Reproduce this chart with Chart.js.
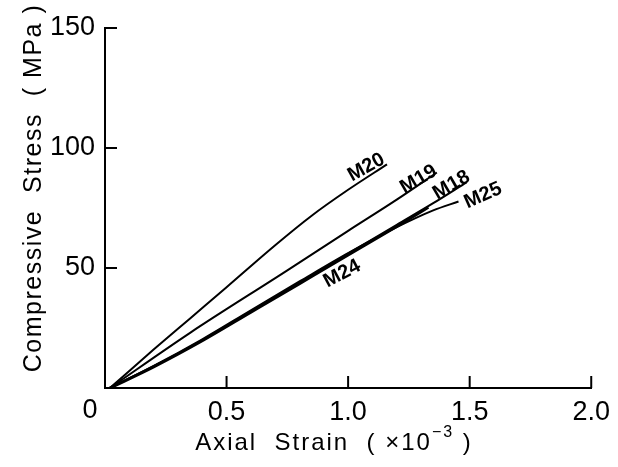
<!DOCTYPE html>
<html>
<head>
<meta charset="utf-8">
<style>
  html, body { margin: 0; padding: 0; background: #fff; }
  canvas { display: block; }
</style>
</head>
<body>
<canvas id="chart" width="618" height="467"></canvas>
<script src="https://cdn.jsdelivr.net/npm/chart.js@4"></script>
<script>
// axial strain in units of 1e-3, compressive stress in MPa
const strainM20 = [0.02, 0.2, 0.35, 0.5, 0.7, 0.85, 1.0, 1.16];
const stressM20 = [0, 16, 29, 42, 59.5, 71.8, 82.6, 93.2];

const strainM19 = [0.02, 0.35, 0.75, 1.0, 1.2, 1.365];
const stressM19 = [0, 23, 49, 65.5, 78.5, 89.8];

const strainM18 = [0.02, 0.2, 0.4, 0.6, 0.8, 1.0, 1.2, 1.35, 1.487];
const stressM18 = [0, 9, 20, 32, 44, 56, 68, 77, 85.7];

const strainM24 = [0.02, 0.2, 0.4, 0.6, 0.8, 1.0, 1.2, 1.33];
const stressM24 = [0, 8.8, 19.7, 31.6, 43.5, 55.4, 67.3, 75.3];

const strainM25 = [0.02, 0.2, 0.4, 0.6, 0.8, 1.0, 1.2, 1.35, 1.454];
const stressM25 = [0, 9.2, 20.3, 32.4, 44.4, 56.2, 67, 74, 77.7];

const xTicks = [0, 0.5, 1.0, 1.5, 2.0];
const yTicks = [0, 50, 100, 150];

const FONT = '"Liberation Sans", Arial, sans-serif';

function points(xs, ys) {
  return xs.map((x, i) => ({ x: x, y: ys[i] }));
}

function curve(label, xs, ys, width) {
  return {
    label: label,
    data: points(xs, ys),
    borderColor: "#000",
    borderWidth: width,
    pointRadius: 0,
    fill: false,
    cubicInterpolationMode: "monotone"
  };
}

// curve names written along the lines, placed in data units
const curveTags = [
  { text: "M20", x: 1.075, y: 91.9, angle: -29 },
  { text: "M19", x: 1.29, y: 86.9, angle: -30 },
  { text: "M18", x: 1.425, y: 84.5, angle: -30 },
  { text: "M25", x: 1.555, y: 80.2, angle: -24 },
  { text: "M24", x: 0.975, y: 47.6, angle: -28 }
];

const chartMarks = {
  id: "chartMarks",
  afterDraw(chart) {
    const ctx = chart.ctx;
    const xs = chart.scales.x;
    const ys = chart.scales.y;
    const area = chart.chartArea;
    ctx.save();
    ctx.strokeStyle = "#000";
    ctx.fillStyle = "#000";
    ctx.lineWidth = 2;

    // inward tick marks
    xTicks.slice(1).forEach(v => {
      const px = xs.getPixelForValue(v);
      ctx.beginPath();
      ctx.moveTo(px, area.bottom);
      ctx.lineTo(px, area.bottom - 12);
      ctx.stroke();
    });
    yTicks.slice(1).forEach(v => {
      const py = ys.getPixelForValue(v);
      ctx.beginPath();
      ctx.moveTo(area.left, py);
      ctx.lineTo(area.left + 12, py);
      ctx.stroke();
    });

    // shared origin label
    ctx.font = "27px " + FONT;
    ctx.textAlign = "center";
    ctx.textBaseline = "middle";
    ctx.fillText("0", area.left - 15, area.bottom + 23);

    // y axis title
    ctx.save();
    ctx.translate(34, 188);
    ctx.rotate(-Math.PI / 2);
    ctx.font = "25px " + FONT;
    ctx.letterSpacing = "1.5px";
    ctx.fillText("Compressive  Stress  ( MPa )", 0, 0);
    ctx.restore();

    // x axis title with superscript exponent
    ctx.save();
    ctx.letterSpacing = "2px";
    ctx.textAlign = "left";
    ctx.textBaseline = "alphabetic";
    const main = "Axial  Strain  ( \u00d710";
    const sup = "\u22123";
    const tail = " )";
    ctx.font = "24px " + FONT;
    const wMain = ctx.measureText(main).width;
    const wTail = ctx.measureText(tail).width;
    ctx.font = "16px " + FONT;
    const wSup = ctx.measureText(sup).width;
    const x0 = 334 - (wMain + wSup + wTail) / 2;
    const base = 450;
    ctx.font = "24px " + FONT;
    ctx.fillText(main, x0, base);
    ctx.font = "16px " + FONT;
    ctx.fillText(sup, x0 + wMain, base - 13);
    ctx.font = "24px " + FONT;
    ctx.fillText(tail, x0 + wMain + wSup, base);
    ctx.restore();

    // curve names
    ctx.font = "bold 20px " + FONT;
    ctx.textAlign = "center";
    ctx.textBaseline = "middle";
    curveTags.forEach(t => {
      ctx.save();
      ctx.translate(xs.getPixelForValue(t.x), ys.getPixelForValue(t.y));
      ctx.rotate(t.angle * Math.PI / 180);
      ctx.fillText(t.text, 0, 0);
      ctx.restore();
    });
    ctx.restore();
  }
};

new Chart(document.getElementById("chart"), {
  type: "line",
  data: {
    datasets: [
      curve("M20", strainM20, stressM20, 2),
      curve("M19", strainM19, stressM19, 2),
      curve("M18", strainM18, stressM18, 2),
      curve("M24", strainM24, stressM24, 3),
      curve("M25", strainM25, stressM25, 2)
    ]
  },
  options: {
    responsive: false,
    animation: false,
    layout: { padding: { top: 28, right: 22, left: 0, bottom: 0 } },
    plugins: { legend: { display: false }, tooltip: { enabled: false } },
    scales: {
      x: {
        type: "linear",
        min: 0,
        max: 2,
        afterFit(scale) { scale.height = 79; },
        afterBuildTicks(scale) { scale.ticks = xTicks.map(v => ({ value: v })); },
        grid: { drawOnChartArea: false, drawTicks: false },
        border: { display: true, color: "#000", width: 2 },
        ticks: {
          color: "#000",
          padding: 8,
          font: { family: FONT, size: 27 },
          maxRotation: 0,
          callback: v => (v === 0 ? "" : v.toFixed(1))
        }
      },
      y: {
        type: "linear",
        min: 0,
        max: 150,
        afterFit(scale) { scale.width = 105; },
        afterBuildTicks(scale) { scale.ticks = yTicks.map(v => ({ value: v })); },
        grid: { drawOnChartArea: false, drawTicks: false },
        border: { display: true, color: "#000", width: 2 },
        ticks: {
          color: "#000",
          padding: 10,
          font: { family: FONT, size: 27 },
          callback: v => (v === 0 ? "" : String(v))
        }
      }
    }
  },
  plugins: [chartMarks]
});
</script>
</body>
</html>
